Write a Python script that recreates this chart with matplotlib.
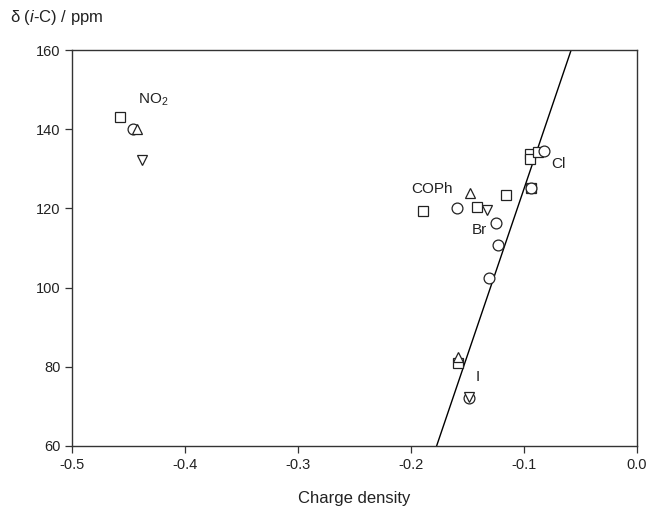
import matplotlib.pyplot as plt
import numpy as np

plt.rcParams['font.family'] = ['Liberation Sans', 'DejaVu Sans']
plt.rcParams['mathtext.fontset'] = 'custom'
plt.rcParams['mathtext.rm'] = 'Liberation Sans'
plt.rcParams['mathtext.it'] = 'Liberation Sans:italic'

# charge density vs. ipso-carbon shift, one list per marker set
sq_x = [-0.458, -0.1897, -0.1413, -0.116, -0.0947, -0.0947, -0.0876, -0.094, -0.1587]
sq_y = [143.1, 119.4, 120.4, 123.4, 133.7, 132.6, 134.3, 125.3, 80.9]

ci_x = [-0.446, -0.159, -0.1245, -0.123, -0.131, -0.0823, -0.0935, -0.1487]
ci_y = [140.2, 120.0, 116.4, 110.8, 102.4, 134.6, 125.1, 72.2]

up_x = [-0.4425, -0.1478, -0.1587]
up_y = [140.0, 124.0, 82.6]

dn_x = [-0.438, -0.133, -0.1487]
dn_y = [132.2, 119.6, 72.3]

# regression line: shift = slope * q + intercept
slope = 840.0
intercept = 209.0

labels = ['NO$_2$', 'COPh', 'Br', 'Cl', 'I']
label_x = [-0.4416, -0.200, -0.146, -0.076, -0.1425]
label_y = [147.4, 124.9, 114.5, 131.2, 77.4]

fig = plt.figure(figsize=(6.5, 5.12), dpi=100)
ax = fig.add_axes([0.111, 0.129, 0.869, 0.773])

qx = np.linspace(-0.2, -0.04, 50)
ax.plot(qx, slope * qx + intercept, color='black', lw=1.0, zorder=1)

mk = dict(ls='none', mfc='white', mec='#222222', mew=0.9, ms=7.5, zorder=3)
ax.plot(sq_x, sq_y, marker='s', **mk)
ax.plot(ci_x, ci_y, marker='o', **{**mk, 'ms': 7.8})
ax.plot(up_x, up_y, marker='^', **mk)
ax.plot(dn_x, dn_y, marker='v', **mk)

for t, x, y in zip(labels, label_x, label_y):
    ax.text(x, y, t, fontsize=11, ha='left', va='center', color='#222222')

ax.set_xlim(-0.5, 0.0)
ax.set_ylim(60, 160)
ax.set_xticks(np.arange(-0.5, 0.01, 0.1))
ax.set_xticklabels(['-0.5', '-0.4', '-0.3', '-0.2', '-0.1', '0.0'])
ax.set_yticks(np.arange(60, 161, 20))
ax.tick_params(direction='out', length=5, width=0.9, labelsize=10.5,
               colors='#333333', labelcolor='#222222', top=False, right=False)
for s in ax.spines.values():
    s.set_color('#333333')
    s.set_linewidth(1.0)

ax.set_xlabel('Charge density', fontsize=12, labelpad=14, color='#222222')
fig.text(0.015, 0.965, 'δ ($i$-C) / ppm', fontsize=12, ha='left', va='center',
         color='#222222')

fig.savefig('out.png', dpi=100)
